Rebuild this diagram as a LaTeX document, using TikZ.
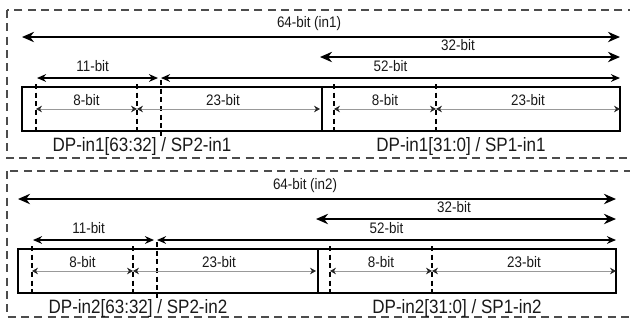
\documentclass[tikz,border=0pt]{standalone}
\usepackage{fontspec}
\setmainfont{Liberation Sans}[FakeStretch=0.88]
\usepackage{tikz}
\usetikzlibrary{arrows.meta}

\begin{document}
\begin{tikzpicture}[
    x=0.03cm, y=-0.03cm,
    font=\fontsize{13}{15}\selectfont,
    panel/.style={draw=black!70, line width=1.1pt, dash pattern=on 2.4mm off 1.6mm},
    register/.style={draw, line width=1.5pt},
    border/.style={draw, line width=1.1pt, dash pattern=on 1.5mm off 1.1mm},
    wide/.style={{Stealth[length=3.6mm,width=3.1mm]}-{Stealth[length=3.6mm,width=3.1mm]}, line width=1.5pt},
    part/.style={{Stealth[length=2.7mm,width=2.3mm]}-{Stealth[length=2.7mm,width=2.3mm]}, line width=1.3pt},
    field/.style={{Stealth[length=1.8mm,width=2mm,color=black!85]}-{Stealth[length=1.8mm,width=2mm,color=black!85]}, draw=black!40, line width=0.8pt},
    lbl/.style={above=5pt, inner sep=0pt, text=black!90},
    flbl/.style={above=2.5pt, inner sep=0pt, text=black!90},
    caption/.style={font=\fontsize{16.5}{18}\selectfont, inner sep=0pt, text=black!90}
]
\useasboundingbox (0,0) rectangle (630,322);
\clip (0,0) rectangle (630,322);

% Panels
\draw[panel] (7,10) rectangle (660,158);
\draw[panel] (7,171) rectangle (660,317);

% Input 1
\begin{scope}
\draw[register] (22,87) rectangle (620,131);
\draw[register] (322,87) -- (322,131);
\draw[border] (36,84) -- (36,134);
\draw[border] (137,84) -- (137,134);
\draw[border] (161,80) -- (161,136);
\draw[border] (334,84) -- (334,134);
\draw[border] (436,84) -- (436,134);

\coordinate (w64a) at (22,37);   \coordinate (w64b) at (620,37);
\coordinate (w32a) at (320,57);  \coordinate (w32b) at (620,57);
\coordinate (e11a) at (37,78);   \coordinate (e11b) at (158,78);
\coordinate (m52a) at (161,78);  \coordinate (m52b) at (620,78);
\coordinate (e8a) at (36,109);   \coordinate (e8b) at (137,109);
\coordinate (m23a) at (137,109); \coordinate (m23b) at (320,109);
\coordinate (f8a) at (334,109);  \coordinate (f8b) at (436,109);
\coordinate (f23a) at (436,109); \coordinate (f23b) at (620,109);

\draw[wide] (w64a) -- node[lbl, pos=0.48] {64-bit (in1)} (w64b);
\draw[wide] (w32a) -- node[lbl, pos=0.46] {32-bit} (w32b);
\draw[part] (e11a) -- node[lbl, pos=0.46] {11-bit} (e11b);
\draw[part] (m52a) -- node[lbl, pos=0.5] {52-bit} (m52b);
\draw[field] (e8a) -- node[flbl] {8-bit} (e8b);
\draw[field] (m23a) -- node[flbl, pos=0.47] {23-bit} (m23b);
\draw[field] (f8a) -- node[flbl] {8-bit} (f8b);
\draw[field] (f23a) -- node[flbl, pos=0.5] {23-bit} (f23b);

\node[caption] (dp1hi) at (142,146) {DP-in1[63:32] / SP2-in1};
\node[caption] (dp1lo) at (461,146) {DP-in1[31:0] / SP1-in1};
\end{scope}

% Input 2
\begin{scope}[shift={(-4,162)}]
\draw[register] (22,87) rectangle (620,131);
\draw[register] (322,87) -- (322,131);
\draw[border] (36,84) -- (36,134);
\draw[border] (137,84) -- (137,134);
\draw[border] (161,80) -- (161,136);
\draw[border] (334,84) -- (334,134);
\draw[border] (436,84) -- (436,134);

\coordinate (w64a) at (22,37);   \coordinate (w64b) at (620,37);
\coordinate (w32a) at (320,57);  \coordinate (w32b) at (620,57);
\coordinate (e11a) at (37,78);   \coordinate (e11b) at (158,78);
\coordinate (m52a) at (161,78);  \coordinate (m52b) at (620,78);
\coordinate (e8a) at (36,109);   \coordinate (e8b) at (137,109);
\coordinate (m23a) at (137,109); \coordinate (m23b) at (320,109);
\coordinate (f8a) at (334,109);  \coordinate (f8b) at (436,109);
\coordinate (f23a) at (436,109); \coordinate (f23b) at (620,109);

\draw[wide] (w64a) -- node[lbl, pos=0.48] {64-bit (in2)} (w64b);
\draw[wide] (w32a) -- node[lbl, pos=0.46] {32-bit} (w32b);
\draw[part] (e11a) -- node[lbl, pos=0.46] {11-bit} (e11b);
\draw[part] (m52a) -- node[lbl, pos=0.5] {52-bit} (m52b);
\draw[field] (e8a) -- node[flbl] {8-bit} (e8b);
\draw[field] (m23a) -- node[flbl, pos=0.47] {23-bit} (m23b);
\draw[field] (f8a) -- node[flbl] {8-bit} (f8b);
\draw[field] (f23a) -- node[flbl, pos=0.5] {23-bit} (f23b);

\node[caption] (dp2hi) at (142,146) {DP-in2[63:32] / SP2-in2};
\node[caption] (dp2lo) at (461,146) {DP-in2[31:0] / SP1-in2};
\end{scope}
\end{tikzpicture}
\end{document}
